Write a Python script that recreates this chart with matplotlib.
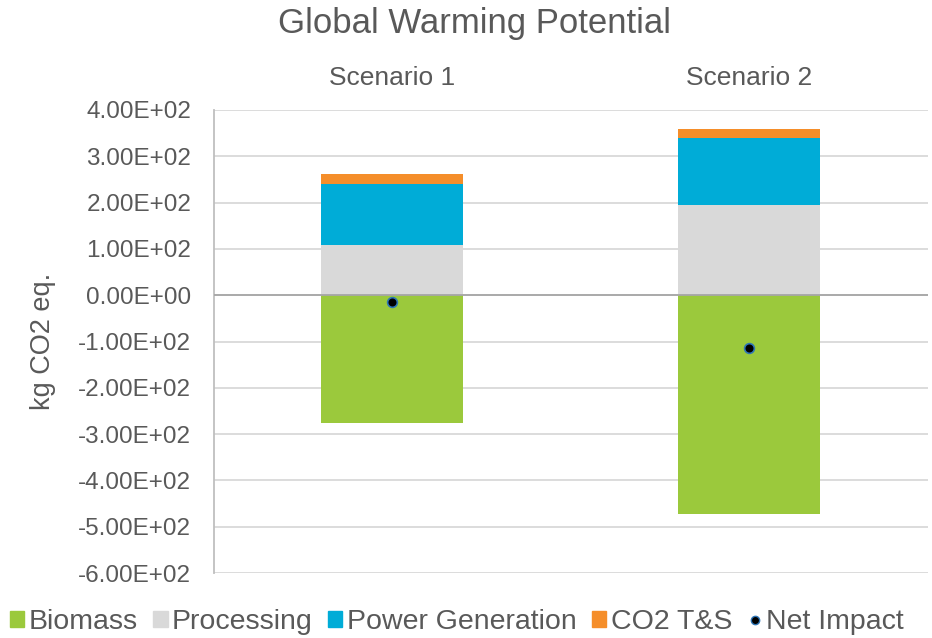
import matplotlib
matplotlib.use("Agg")
import matplotlib.pyplot as plt
from matplotlib.lines import Line2D
from matplotlib.patches import Patch

plt.rcParams['font.family'] = ['Liberation Sans', 'DejaVu Sans']

scenarios = ["Scenario 1", "Scenario 2"]
biomass = [-275, -473]
processing = [109, 194]
power_generation = [132, 146]
co2_ts = [20, 18]
net_impact = [-14, -115]

y_ticks = [400, 300, 200, 100, 0, -100, -200, -300, -400, -500, -600]

colors = {
    "Biomass": "#9BC93C",
    "Processing": "#D9D9D9",
    "Power Generation": "#00ACD7",
    "CO2 T&S": "#F58E2A",
}
text_color = "#595959"

fig = plt.figure(figsize=(9.32, 6.38), dpi=100)
ax = fig.add_axes([213.5 / 932, 1 - 573 / 638, 714 / 932, 463 / 638])

x = list(range(len(scenarios)))
w = 0.40
ax.bar(x, biomass, w, color=colors["Biomass"], zorder=2)
ax.bar(x, processing, w, color=colors["Processing"], zorder=2)
bottom2 = [p for p in processing]
ax.bar(x, power_generation, w, bottom=bottom2, color=colors["Power Generation"], zorder=2)
bottom3 = [p + q for p, q in zip(processing, power_generation)]
ax.bar(x, co2_ts, w, bottom=bottom3, color=colors["CO2 T&S"], zorder=2)
ax.plot(x, net_impact, linestyle="none", marker="o", markersize=7,
        markerfacecolor="black", markeredgecolor="#2E75B6", markeredgewidth=1.2, zorder=4)

ax.set_xlim(-0.5, 1.5)
ax.set_ylim(-600, 400)
ax.set_yticks(y_ticks)
ax.set_yticklabels([f"{v:.2E}" for v in y_ticks])
ax.tick_params(axis="y", length=0, pad=16, labelsize=17.5, labelcolor=text_color)
ax.set_xticks([])

ax.grid(axis="y", color="#D9D9D9", linewidth=1.3, zorder=0)
ax.axhline(0, color="#A6A6A6", linewidth=1.3, zorder=3)
for s in ["top", "right", "bottom"]:
    ax.spines[s].set_visible(False)
ax.spines["left"].set_color("#BFBFBF")
ax.spines["left"].set_linewidth(1.3)

ax.set_ylabel("kg CO2 eq.", fontsize=19.5, color=text_color)
ax.yaxis.set_label_coords(-158 / 714, 0.5)

for xi, name in zip(x, scenarios):
    ax.text(xi, 1.069, name, transform=ax.get_xaxis_transform(), ha="center",
            va="center", fontsize=19, color=text_color)

fig.text(475 / 932, 1 - 24 / 638, "Global Warming Potential", ha="center", va="center",
         fontsize=25, color=text_color)

handles = [Patch(color=colors[k]) for k in colors]
handles.append(Line2D([], [], linestyle="none", marker="o", markersize=6,
                      markerfacecolor="black", markeredgecolor="#2E75B6"))
labels = list(colors.keys()) + ["Net Impact"]
fig.legend(handles, labels, loc="center", bbox_to_anchor=(457 / 932, 1 - 622 / 638),
           ncol=5, frameon=False, fontsize=20.5, labelcolor=text_color,
           handlelength=0.5, handleheight=0.5, handletextpad=0.15, columnspacing=0.55)

fig.savefig("out.png", dpi=100)
